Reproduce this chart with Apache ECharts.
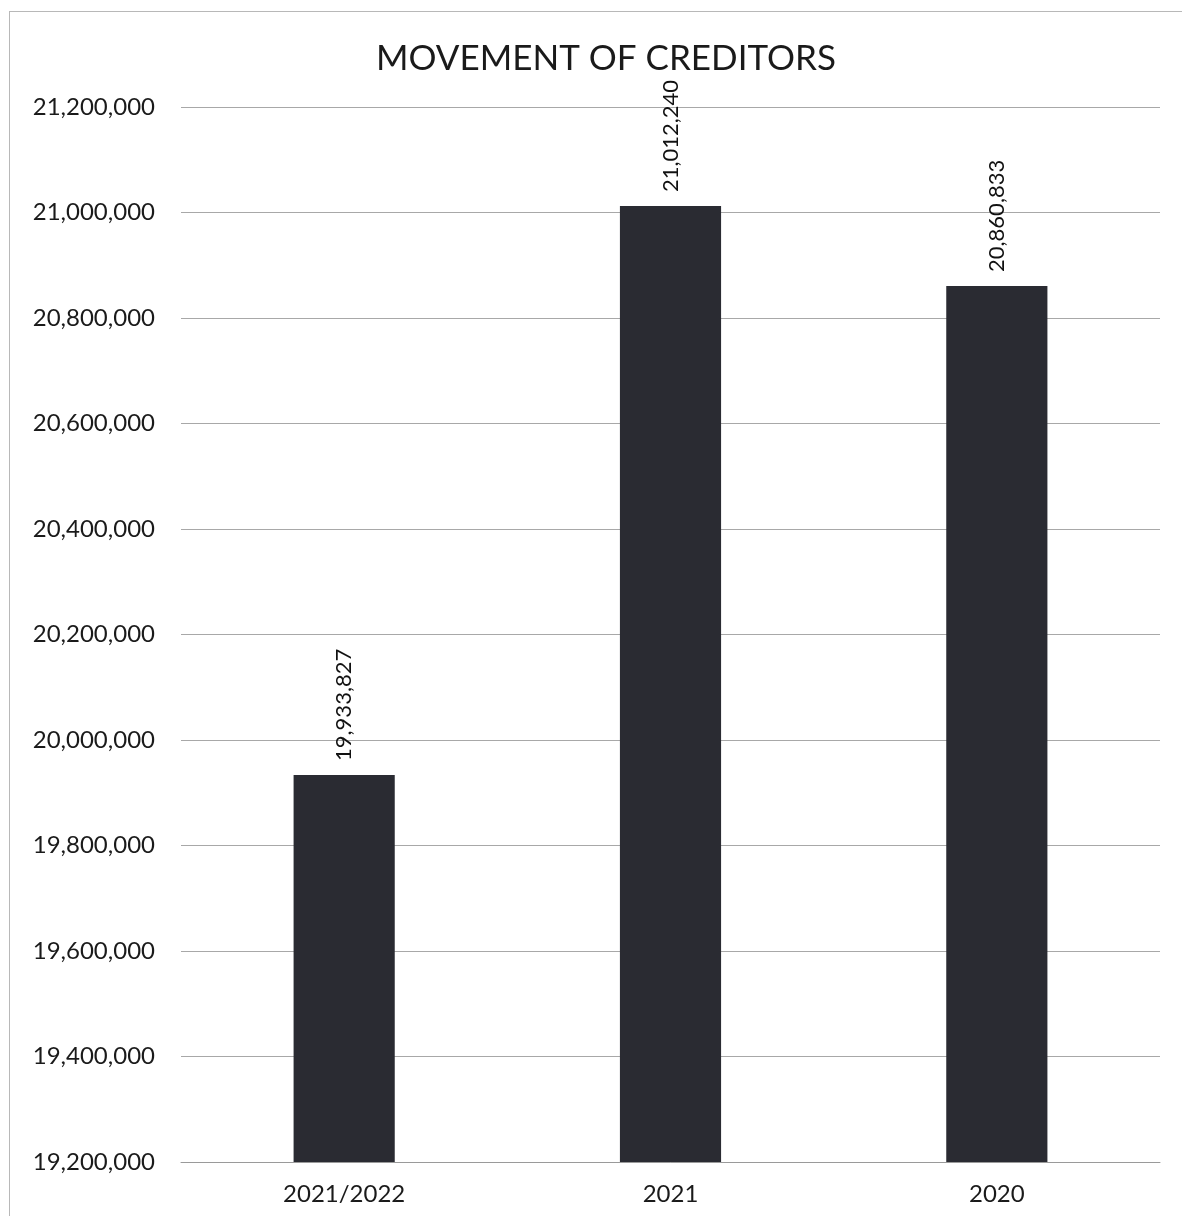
<!DOCTYPE html>
<html>
<head>
<meta charset="utf-8">
<script src="https://cdn.jsdelivr.net/npm/echarts@6/dist/echarts.min.js"></script>
<style>
  html, body { margin: 0; padding: 0; background: #fff; }
  #frame { position: absolute; left: 9px; top: 11px; width: 1200px; height: 1230px;
           border: 1px solid #b8b8b8; box-sizing: border-box; }
  #chart { position: absolute; left: 0; top: 0; width: 1182px; height: 1216px; }
</style>
</head>
<body>
<div id="frame"></div>
<div id="chart"></div>
<script>
// Creditors balance by period
const categories = ['2021/2022', '2021', '2020'];
const creditors = [19933827, 21012240, 20860833];

// Value axis range and step
const axisMin = 19200000;
const axisMax = 21200000;
const axisStep = 200000;

const FONT = 'Lato';
const fmt = v => Math.round(v).toLocaleString('en-US');

const chart = echarts.init(document.getElementById('chart'));
chart.setOption({
  backgroundColor: 'transparent',
  animation: false,
  title: {
    text: 'MOVEMENT OF CREDITORS',
    left: 601,
    textAlign: 'center',
    top: 36,
    textStyle: { fontFamily: FONT, fontSize: 35, fontWeight: 'normal', color: '#1a1a1a' }
  },
  grid: { left: 181, right: 22, top: 107, bottom: 54, containLabel: false },
  xAxis: {
    type: 'category',
    data: categories,
    axisLine: { lineStyle: { color: '#9a9a9a', width: 1 } },
    axisTick: { show: false },
    axisLabel: { fontFamily: FONT, fontSize: 24, color: '#1a1a1a', margin: 20 }
  },
  yAxis: {
    type: 'value',
    min: axisMin,
    max: axisMax,
    interval: axisStep,
    axisLine: { show: false },
    axisTick: { show: false },
    axisLabel: { fontFamily: FONT, fontSize: 24, color: '#1a1a1a', margin: 26, formatter: fmt },
    splitLine: { lineStyle: { color: '#a8a8a8', width: 1 } }
  },
  series: [{
    type: 'bar',
    data: creditors,
    barWidth: '31%',
    itemStyle: { color: '#2a2b32' },
    label: {
      show: true,
      position: 'top',
      rotate: 90,
      align: 'left',
      verticalAlign: 'middle',
      distance: 14,
      fontFamily: FONT,
      fontSize: 22,
      color: '#111',
      formatter: p => fmt(p.value)
    }
  }]
});
</script>
</body>
</html>
